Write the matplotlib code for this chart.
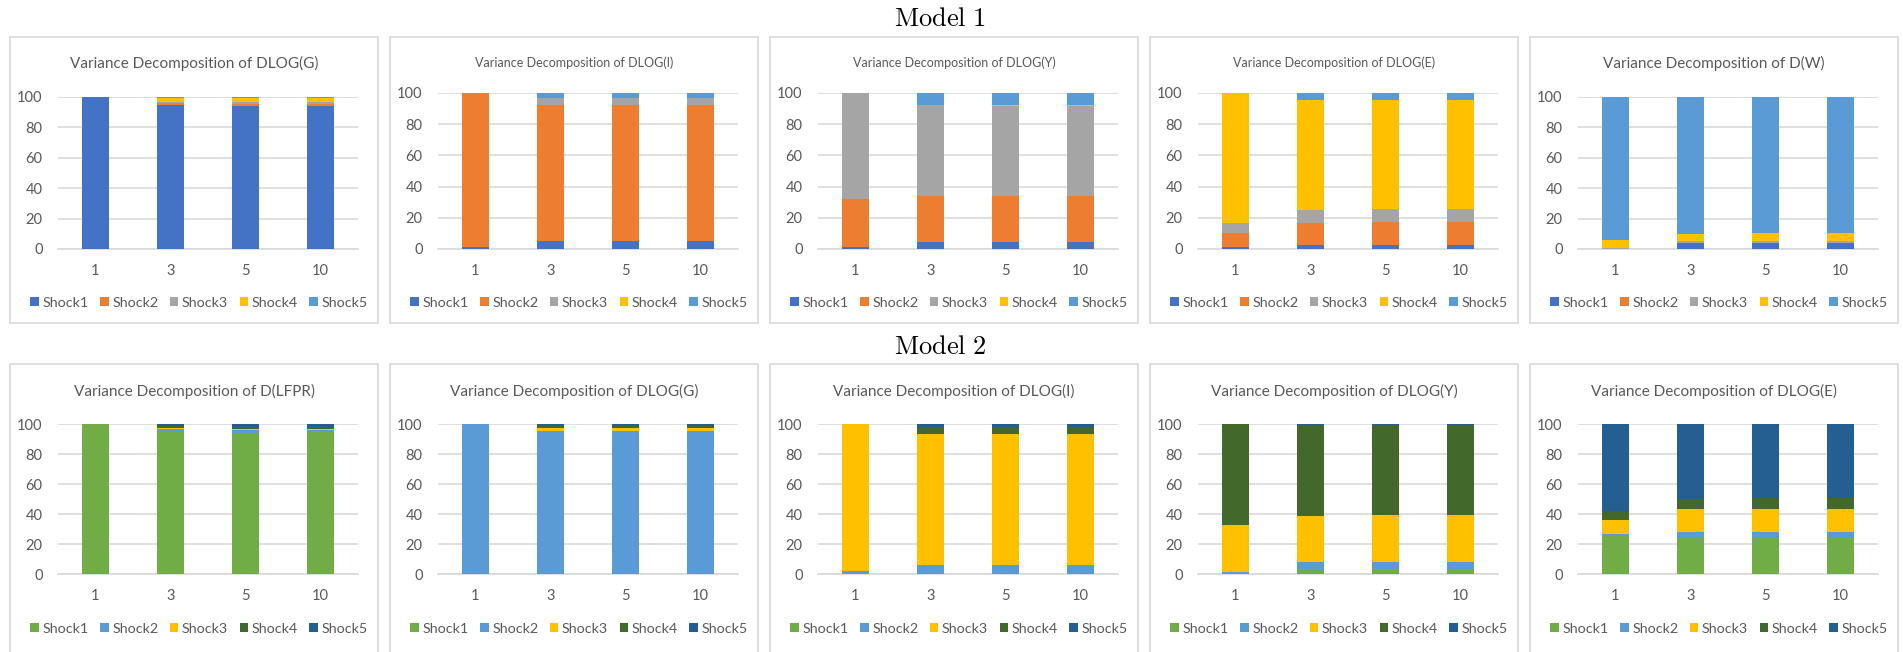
import matplotlib
matplotlib.use("Agg")
import matplotlib.pyplot as plt
from matplotlib.patches import Rectangle
import numpy as np

plt.rcParams['font.family'] = ['Lato', 'DejaVu Sans']
plt.rcParams['mathtext.fontset'] = 'cm'

W, H = 1903, 652

horizons = ['1', '3', '5', '10']
shocks = ['Shock1', 'Shock2', 'Shock3', 'Shock4', 'Shock5']

colors_m1 = ['#4472C4', '#ED7D31', '#A5A5A5', '#FFC000', '#5B9BD5']
colors_m2 = ['#70AD47', '#5B9BD5', '#FFC000', '#43682B', '#255E91']

# Model 1 -- rows are Shock1..Shock5, columns are horizons 1, 3, 5, 10
m1_dlog_g = [[100, 94.5, 93.9, 93.9],
             [0, 1.5, 1.6, 1.6],
             [0, 1.0, 1.0, 1.0],
             [0, 2.5, 2.9, 2.9],
             [0, 0.5, 0.6, 0.6]]
m1_dlog_i = [[1.5, 5.4, 5.4, 5.4],
             [98.5, 87.1, 87.1, 87.1],
             [0, 4.0, 4.0, 4.0],
             [0, 0.5, 0.5, 0.5],
             [0, 3.0, 3.0, 3.0]]
m1_dlog_y = [[1.5, 4.7, 4.7, 4.7],
             [30.8, 29.1, 29.1, 29.1],
             [67.7, 58.7, 57.6, 57.6],
             [0, 0.1, 0.6, 0.6],
             [0, 7.4, 8.0, 8.0]]
m1_dlog_e = [[1.0, 2.6, 2.6, 2.6],
             [9.1, 14.2, 14.6, 14.6],
             [6.7, 7.9, 8.6, 8.6],
             [83.2, 70.6, 69.5, 69.5],
             [0, 4.7, 4.7, 4.7]]
m1_d_w = [[0.2, 3.7, 3.7, 3.7],
          [0.1, 0.3, 0.4, 0.4],
          [0.5, 1.0, 1.3, 1.3],
          [5.0, 4.8, 5.3, 5.3],
          [94.2, 90.2, 89.3, 89.3]]

# Model 2
m2_d_lfpr = [[100, 94.5, 94.2, 94.9],
             [0, 2.2, 1.5, 0.8],
             [0, 0.7, 0.7, 1.0],
             [0, 1.1, 1.5, 1.3],
             [0, 1.5, 2.1, 2.0]]
m2_dlog_g = [[0.1, 0.1, 0.1, 0.1],
             [99.9, 95.3, 95.3, 95.3],
             [0, 1.8, 1.8, 1.8],
             [0, 1.3, 1.3, 1.3],
             [0, 1.5, 1.5, 1.5]]
m2_dlog_i = [[0.2, 0.3, 0.3, 0.3],
             [2.0, 5.9, 5.9, 5.9],
             [97.8, 87.1, 87.1, 87.1],
             [0, 4.9, 4.9, 4.9],
             [0, 1.8, 1.8, 1.8]]
m2_dlog_y = [[0.3, 2.7, 3.5, 3.5],
             [1.0, 5.3, 4.5, 4.5],
             [31.5, 30.8, 31.5, 31.5],
             [67.2, 60.8, 60.1, 60.1],
             [0, 0.4, 0.4, 0.4]]
m2_dlog_e = [[25.7, 24.0, 24.0, 24.0],
             [0.9, 3.7, 3.7, 3.7],
             [9.1, 15.5, 15.7, 15.7],
             [6.0, 6.9, 7.4, 7.4],
             [58.3, 49.9, 49.2, 49.2]]

row1 = [("Variance Decomposition of DLOG(G)", m1_dlog_g, 11),
        ("Variance Decomposition of DLOG(I)", m1_dlog_i, 9),
        ("Variance Decomposition of DLOG(Y)", m1_dlog_y, 9),
        ("Variance Decomposition of DLOG(E)", m1_dlog_e, 9),
        ("Variance Decomposition of D(W)", m1_d_w, 11)]
row2 = [("Variance Decomposition of D(LFPR)", m2_d_lfpr, 11),
        ("Variance Decomposition of DLOG(G)", m2_dlog_g, 11),
        ("Variance Decomposition of DLOG(I)", m2_dlog_i, 11),
        ("Variance Decomposition of DLOG(Y)", m2_dlog_y, 11),
        ("Variance Decomposition of DLOG(E)", m2_dlog_e, 11)]

panel_x = [10, 390, 770, 1150, 1530]
txt = '#595959'
grid = '#D9D9D9'

fig = plt.figure(figsize=(W / 100, H / 100), dpi=100)


def fx(x):
    return x / W


def fy(y):
    return 1 - y / H


def draw_panel(px, top, bottom, ax_top, ax_bot, title_y, leg_y, title, data, tsize, colors):
    fig.patches.append(Rectangle((fx(px), fy(bottom)), 368 / W, (bottom - top) / H,
                                 transform=fig.transFigure, fill=False,
                                 edgecolor=grid, lw=1.2))
    ax = fig.add_axes([fx(px + 48), fy(ax_bot), 300 / W, (ax_bot - ax_top) / H])
    x = np.arange(len(horizons))
    base = np.zeros(len(horizons))
    for i, s in enumerate(shocks):
        vals = np.array(data[i], dtype=float)
        ax.bar(x, vals, 0.37, bottom=base, color=colors[i], label=s, zorder=3)
        base += vals
    ax.set_xlim(-0.5, 3.5)
    ax.set_ylim(0, 100)
    ax.set_yticks([0, 20, 40, 60, 80, 100])
    ax.set_xticks(x)
    ax.set_xticklabels(horizons)
    ax.yaxis.grid(True, color=grid, lw=1.2, zorder=0)
    ax.set_axisbelow(True)
    for sp in ['top', 'left', 'right']:
        ax.spines[sp].set_visible(False)
    ax.spines['bottom'].set_color(grid)
    ax.spines['bottom'].set_linewidth(1.2)
    ax.tick_params(axis='both', length=0, colors=txt, labelsize=10.5)
    ax.tick_params(axis='x', pad=10.5)
    ax.tick_params(axis='y', pad=11)
    cx = fx(px + 184)
    fig.text(cx, fy(title_y), title, ha='center', va='center', fontsize=tsize, color=txt)
    ax.legend(loc='center', bbox_to_anchor=(fx(px + 189), fy(leg_y)),
              bbox_transform=fig.transFigure,
              ncol=5, frameon=False, fontsize=10.3, labelcolor=txt,
              handlelength=0.6, handleheight=0.6, handletextpad=0.25, columnspacing=0.8)


for k, (title, data, ts) in enumerate(row1):
    ax_top = 93 if k in (1, 2, 3) else 97
    draw_panel(panel_x[k], 37, 323, ax_top, 249, 63, 303, title, data, ts, colors_m1)

for k, (title, data, ts) in enumerate(row2):
    draw_panel(panel_x[k], 364, 680, 424, 574, 391, 629, title, data, ts, colors_m2)

fig.text(fx(940), fy(19), r'$\mathrm{Model\ 1}$', ha='center', va='center', fontsize=19)
fig.text(fx(940), fy(347), r'$\mathrm{Model\ 2}$', ha='center', va='center', fontsize=19)

fig.savefig("out.png", dpi=100, facecolor='white')
